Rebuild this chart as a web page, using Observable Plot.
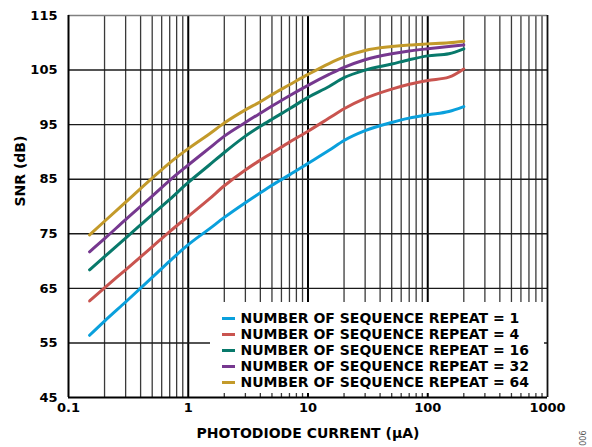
<!DOCTYPE html>
<html>
<head>
<meta charset="utf-8">
<script src="https://cdn.jsdelivr.net/npm/d3@7"></script>
<script src="https://cdn.jsdelivr.net/npm/@observablehq/plot@0.6"></script>
<style>
  html, body { margin: 0; padding: 0; background: white; }
  #wrap { position: relative; width: 592px; height: 447px; font-family: "DejaVu Sans", sans-serif; }
  #legend { position: absolute; left: 210px; top: 302px; width: 334px; height: 91px; background: white; }
  .row { position: absolute; left: 0; height: 16px; width: 334px; }
  .sw { position: absolute; left: 12px; top: 6.5px; width: 13px; height: 3px; }
  .lab { position: absolute; left: 30.5px; top: 0; line-height: 16px; font-size: 14px; font-weight: bold; color: #000; white-space: nowrap; }
</style>
</head>
<body>
<div id="wrap"></div>
<script>
// ---- data ----
const currents = [0.15,0.2,0.3,0.5,0.7,1,1.5,2,3,4,5,7,10,15,20,30,50,70,100,150,200];
const rep1  = [56.4,59.0,62.5,67.0,70.0,73.0,75.9,78.0,80.7,82.5,83.9,85.8,87.9,90.3,92.1,93.9,95.4,96.2,96.8,97.4,98.3];
const rep4  = [62.7,65.1,68.4,72.6,75.4,78.2,81.4,83.8,86.7,88.5,89.8,91.8,93.8,96.2,97.9,99.8,101.5,102.4,103.1,103.7,105.2];
const rep16 = [68.4,70.8,74.2,78.5,81.3,84.4,87.6,89.9,92.9,94.7,96.0,97.9,100.0,102.0,103.6,105.0,106.1,106.9,107.6,108.0,108.9];
const rep32 = [71.7,74.1,77.6,81.9,84.8,87.6,90.7,92.9,95.4,97.1,98.4,100.3,102.2,104.2,105.5,106.9,108.0,108.5,108.9,109.3,109.6];
const rep64 = [74.8,77.3,80.8,85.2,88.0,90.6,93.3,95.3,97.7,99.2,100.5,102.3,104.2,106.2,107.4,108.6,109.3,109.6,109.8,110.0,110.3];

const seriesNames = [
  "NUMBER OF SEQUENCE REPEAT = 1",
  "NUMBER OF SEQUENCE REPEAT = 4",
  "NUMBER OF SEQUENCE REPEAT = 16",
  "NUMBER OF SEQUENCE REPEAT = 32",
  "NUMBER OF SEQUENCE REPEAT = 64"
];
const seriesColors = ["#0aa0dc", "#c9544f", "#08796b", "#76388f", "#c39a2a"];
const seriesValues = [rep1, rep4, rep16, rep32, rep64];

const xTicks = [0.1, 1, 10, 100, 1000];
const xTickLabels = ["0.1", "1", "10", "100", "1000"];
const yTicks = [45, 55, 65, 75, 85, 95, 105, 115];
const xLabel = "PHOTODIODE CURRENT (µA)";
const yLabel = "SNR (dB)";
const figId = "006";

// ---- build table ----
const data = [];
seriesValues.forEach((vals, s) => {
  vals.forEach((v, i) => data.push({current: currents[i], snr: v, series: seriesNames[s]}));
});

const minorX = [];
[0.1, 1, 10, 100].forEach(d => { for (let k = 2; k <= 9; k++) minorX.push(d * k); });
const decadeX = [1, 10, 100];
const innerY = yTicks.slice(1, -1);

const font = {fontFamily: "DejaVu Sans", fontWeight: "bold"};
const xFmt = d => {
  const i = xTicks.findIndex(t => Math.abs(Math.log10(t) - Math.log10(d)) < 1e-6);
  return i >= 0 ? xTickLabels[i] : "";
};

const chart = Plot.plot({
  width: 592,
  height: 447,
  marginTop: 15,
  marginRight: 45,
  marginBottom: 50,
  marginLeft: 68,
  style: {fontFamily: "DejaVu Sans", fontSize: "13px", fontWeight: "bold", background: "white", color: "black"},
  x: {type: "log", domain: [0.1, 1000], axis: null},
  y: {domain: [45, 115]},
  color: {domain: seriesNames, range: seriesColors},
  marks: [
    Plot.ruleX(minorX, {stroke: "#3a3a3a", strokeWidth: 1.3}),
    Plot.ruleX(decadeX, {stroke: "#000", strokeWidth: 2}),
    Plot.ruleY(innerY, {stroke: "#1a1a1a", strokeWidth: 1.4}),
    Plot.ruleY([115], {stroke: "#808080", strokeWidth: 1.5}),
    Plot.ruleX([1000], {stroke: "#111", strokeWidth: 1.8}),
    Plot.ruleX([0.1], {stroke: "#000", strokeWidth: 2}),
    Plot.ruleY([45], {stroke: "#000", strokeWidth: 2}),
    Plot.line(data, {x: "current", y: "snr", z: "series", stroke: "series", strokeWidth: 3, curve: "monotone-x"}),
    Plot.text(xTicks, {x: d => d, frameAnchor: "bottom", dy: 14, text: xFmt, fontSize: 13, ...font, fill: "#000"}),
    Plot.axisY({ticks: yTicks, tickSize: 0, tickPadding: 11, label: null, fontSize: 13, fontWeight: "bold"}),
    Plot.text([xLabel], {frameAnchor: "bottom", dy: 40, fontSize: 14, ...font, fill: "#000"}),
    Plot.text([yLabel], {frameAnchor: "left", dx: -48, rotate: -90, fontSize: 14, ...font, fill: "#000"}),
    Plot.text([figId], {frameAnchor: "bottom-right", dx: 38, dy: 33, rotate: -90, fontSize: 8, fontFamily: "DejaVu Sans", fontWeight: "normal", fill: "#555"})
  ]
});

const wrap = document.getElementById("wrap");
wrap.appendChild(chart);

// ---- legend (HTML, over the plot area) ----
const legend = document.createElement("div");
legend.id = "legend";
seriesNames.forEach((name, i) => {
  const row = document.createElement("div");
  row.className = "row";
  row.style.top = (8 + 16 * i) + "px";
  const sw = document.createElement("div");
  sw.className = "sw";
  sw.style.background = seriesColors[i];
  const lab = document.createElement("div");
  lab.className = "lab";
  lab.textContent = name;
  row.appendChild(sw);
  row.appendChild(lab);
  legend.appendChild(row);
});
wrap.appendChild(legend);
</script>
</body>
</html>
